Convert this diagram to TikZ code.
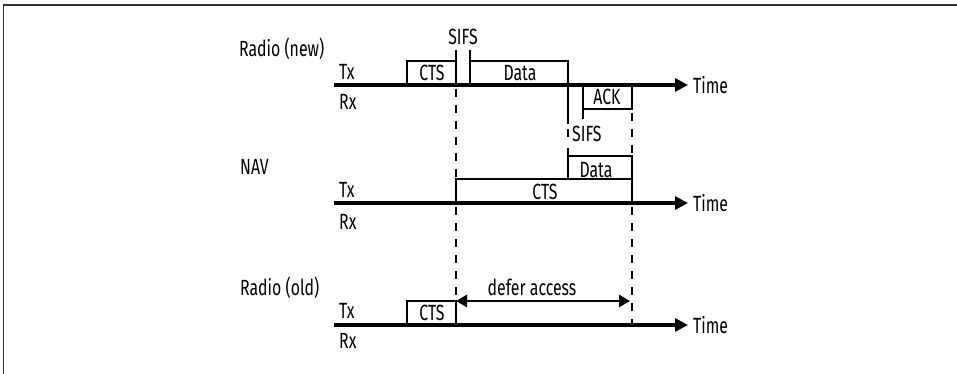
\documentclass[tikz,border=0pt]{standalone}
\usepackage{fontspec}
\setmainfont[FakeStretch=0.72]{Fira Sans}
\usetikzlibrary{arrows.meta}
\begin{document}
\begin{tikzpicture}[x=1pt,y=-1pt,
  lbl/.style={font=\fontsize{22}{25}\selectfont, inner sep=0pt},
  heavy/.style={line width=2.8pt},
  axis/.style={line width=3.2pt,-{Triangle[length=13pt,width=13pt]}},
  dsh/.style={line width=2.8pt,dash pattern=on 8pt off 8pt},
  defer/.style={line width=2.8pt,{Triangle[length=11pt,width=12pt]}-{Triangle[length=11pt,width=12pt]}}]
\useasboundingbox (0,0) rectangle (957,374);
\draw[black!80,line width=1.3pt] (3.5,374) -- (3.5,5) -- (957,5);

% ---------- Radio (new) ----------
\node[lbl,anchor=west] (rnew) at (239,49) {Radio (new)};
\node[lbl] (sifs1) at (463,37) {SIFS};
\node[lbl,anchor=west] (tx1) at (339,72) {Tx};
\node[lbl,anchor=west] (rx1) at (339,102) {Rx};
\coordinate (a1s) at (334,85);
\coordinate (a1e) at (688,85);
\draw[axis] (a1s) -- (a1e);
\node[lbl,anchor=west] (time1) at (693,85) {Time};
\draw[heavy] (407,85) -- (407,61) -- (456,61);
\draw[heavy] (456,50) -- (456,85);
\node[lbl] (cts1) at (432,73) {CTS};
\draw[heavy] (470,50) -- (470,85);
\draw[heavy] (470,61) -- (568,61) -- (568,124);
\node[lbl] (data1) at (520,73) {Data};
\draw[heavy] (583,119) -- (583,85);
\draw[heavy] (583,109) -- (632,109) -- (632,85);
\node[lbl] (ack1) at (607,97) {ACK};
\draw[heavy] (568,129) -- (568,137);
\draw[heavy] (568,148) -- (568,156);
\node[lbl,anchor=west] (sifs2) at (572,134) {SIFS};

% ---------- NAV ----------
\node[lbl,anchor=west] (nav) at (240,167) {NAV};
\node[lbl,anchor=west] (tx2) at (339,190) {Tx};
\node[lbl,anchor=west] (rx2) at (339,222) {Rx};
\coordinate (a2s) at (334,203);
\coordinate (a2e) at (688,203);
\draw[axis] (a2s) -- (a2e);
\node[lbl,anchor=west] (time2) at (693,203) {Time};
\draw[heavy] (568,179) -- (568,156) -- (632,156) -- (632,203);
\node[lbl] (data2) at (596,170) {Data};
\draw[heavy] (456,203) -- (456,179) -- (632,179);
\node[lbl] (cts2) at (545,192) {CTS};

% ---------- Radio (old) ----------
\node[lbl,anchor=west] (rold) at (240,288) {Radio (old)};
\node[lbl,anchor=west] (tx3) at (339,311) {Tx};
\node[lbl,anchor=west] (rx3) at (339,341) {Rx};
\coordinate (a3s) at (334,325);
\coordinate (a3e) at (688,325);
\draw[axis] (a3s) -- (a3e);
\node[lbl,anchor=west] (time3) at (693,325) {Time};
\draw[heavy] (407,325) -- (407,301) -- (456,301) -- (456,325);
\node[lbl] (cts3) at (432,313) {CTS};
\coordinate (d1) at (456,301);
\coordinate (d2) at (630,301);
\draw[defer] (d1) -- (d2);
\node[lbl] (defer) at (532,287) {defer access};

% ---------- dashed guides ----------
\draw[dsh] (456,89) -- (456,179);
\draw[dsh] (456,207) -- (456,301);
\draw[dsh] (632,113) -- (632,156);
\draw[dsh] (632,207) -- (632,325);
\end{tikzpicture}
\end{document}
